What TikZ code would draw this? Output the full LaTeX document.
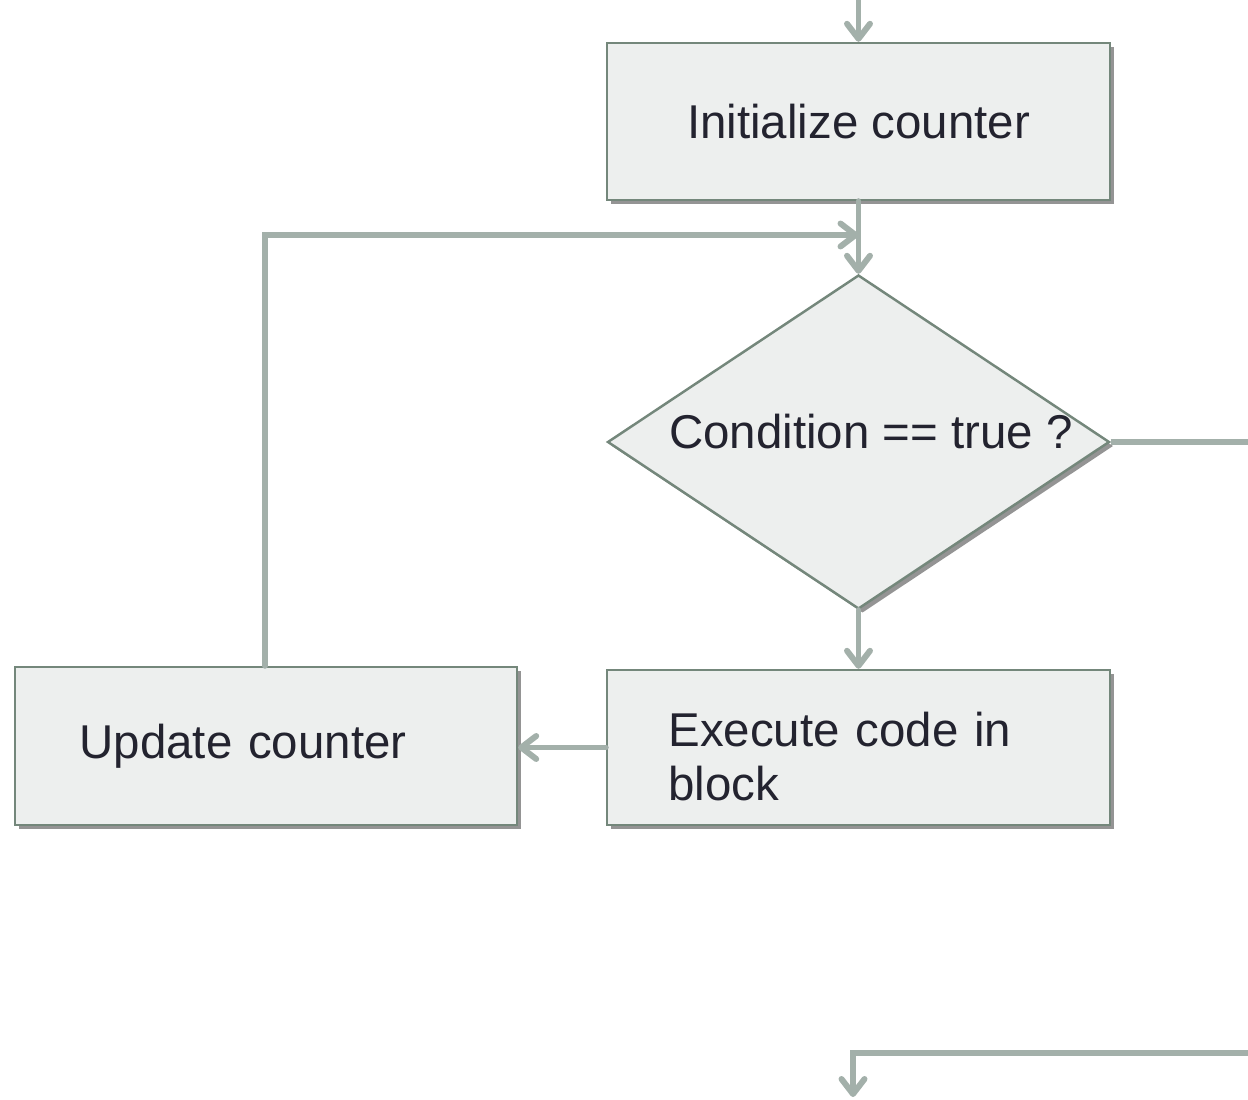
\documentclass[tikz,border=0pt]{standalone}
\usepackage{fontspec}
\setmainfont{Liberation Sans}
\usetikzlibrary{arrows.meta,shapes.geometric,shadows}
\definecolor{flowline}{HTML}{A3B0AA}
\definecolor{flowedge}{HTML}{74877B}
\definecolor{flowfill}{HTML}{EDEFEE}
\definecolor{flowtext}{HTML}{23232F}
\tikzset{
    flowbox/.style={draw=flowedge, line width=1.4pt, fill=flowfill, text=flowtext,
        font=\fontsize{27}{31}\selectfont, inner sep=0pt,
        drop shadow={shadow xshift=0.08cm, shadow yshift=-0.08cm, fill=black!60, opacity=0.7}},
    flowarrow/.style={draw=flowline, line width=3.4pt, line cap=round,
        -{Straight Barb[length=0.3cm, width=0.46cm, line width=3.4pt, round]}},
    flowplain/.style={draw=flowline, line width=3.4pt}
}
\begin{document}
\begin{tikzpicture}
    \useasboundingbox (0,0) rectangle (24.96,-22);
    % boxes
    \node [flowbox, minimum width=10.06cm, minimum height=3.14cm] (init) at (17.17,-2.43) {Initialize counter};
    \node [flowbox, diamond, aspect=1.5, minimum width=10.04cm, minimum height=6.68cm] (cond) at (17.17,-8.84) {\raisebox{0.2cm}[\height][\depth]{\hspace{0.5cm}Condition == true ?}};
    \node [flowbox, minimum width=10.06cm, minimum height=3.1cm, text width=7.6cm, align=left, inner xsep=1.23cm] (exec) at (17.17,-14.95) {\rule{0pt}{1.04cm}Execute code in\\block};
    \node [flowbox, minimum width=10.04cm, minimum height=3.16cm, text width=7.46cm, align=left, inner xsep=1.29cm] (update) at (5.32,-14.92) {Update counter};
    % free ends
    \coordinate (start) at (17.17,0);
    \coordinate (join) at (17.17,-4.7);
    \coordinate (corner) at (5.3,-4.7);
    \coordinate (exit) at (24.96,-8.84);
    \coordinate (back) at (24.96,-21.06);
    \coordinate (turn) at (17.06,-21.06);
    \coordinate (finish) at (17.06,-21.94);
    % connectors
    \draw [flowarrow] (start) -- (init.north);
    \draw [flowarrow] (init.south) -- (cond.north);
    \draw [flowarrow] (update.north -| corner) -- (corner) -- (join);
    \draw [flowplain] (cond.east) -- (exit);
    \draw [flowarrow] (cond.south) -- (exec.north);
    \draw [flowarrow] (exec.west) -- (exec.west -| update.east);
    \draw [flowarrow] (back) -- (turn) -- (finish);
\end{tikzpicture}
\end{document}
